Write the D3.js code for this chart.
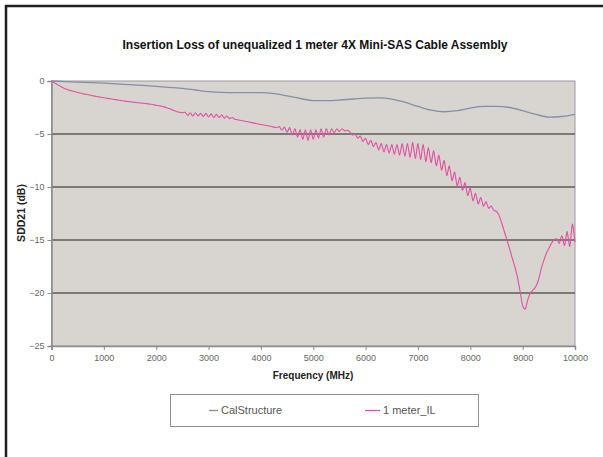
<!DOCTYPE html>
<html><head><meta charset="utf-8">
<script src="https://cdn.jsdelivr.net/npm/d3@7"></script>
<style>html,body{margin:0;padding:0;background:#fff;}svg{display:block;}</style>
</head><body>
<script>
const xTicks = [0,1000,2000,3000,4000,5000,6000,7000,8000,9000,10000];
const yTicks = [0,-5,-10,-15,-20,-25];
const seriesNames = ["CalStructure","1 meter_IL"];

// CalStructure sampled every 250 MHz
const calFreq = d3.range(0, 10001, 250);
const calValues = [0,-0.05,-0.1,-0.15,-0.2,-0.27,-0.35,-0.42,-0.5,-0.6,-0.7,-0.85,-1.0,-1.08,-1.1,-1.1,-1.1,-1.2,-1.4,-1.65,-1.85,-1.85,-1.8,-1.7,-1.62,-1.6,-1.7,-2.0,-2.4,-2.75,-2.9,-2.8,-2.55,-2.4,-2.4,-2.5,-2.8,-3.15,-3.4,-3.35,-3.15];

// 1 meter_IL sampled every 50 MHz
const ilFreq = d3.range(0, 10001, 50);
const ilValues = [
0,-0.15,-0.3,-0.45,-0.58,-0.7,-0.8,-0.88,-0.95,-1.02,
-1.08,-1.14,-1.2,-1.25,-1.3,-1.35,-1.4,-1.45,-1.5,-1.54,
-1.58,-1.62,-1.66,-1.7,-1.74,-1.78,-1.82,-1.86,-1.9,-1.93,
-1.96,-1.99,-2.02,-2.05,-2.08,-2.1,-2.13,-2.16,-2.2,-2.24,
-2.28,-2.33,-2.38,-2.44,-2.52,-2.6,-2.7,-2.8,-2.9,-2.95,
-3.0,-2.95,-3.25,-3.0,-3.3,-3.0,-3.3,-3.05,-3.35,-3.05,
-3.4,-3.1,-3.45,-3.15,-3.45,-3.2,-3.5,-3.3,-3.55,-3.45,
-3.6,-3.65,-3.7,-3.75,-3.8,-3.85,-3.9,-3.95,-4.0,-4.05,
-4.1,-4.15,-4.2,-4.25,-4.3,-4.35,-4.4,-4.3,-4.65,-4.35,
-4.85,-4.4,-5.1,-4.5,-5.3,-4.6,-5.5,-4.6,-5.6,-4.6,
-5.5,-4.6,-5.4,-4.5,-5.3,-4.5,-5.1,-4.5,-4.9,-4.5,
-4.75,-4.5,-4.7,-4.65,-4.8,-5.1,-5.0,-5.4,-5.2,-5.7,
-5.4,-6.0,-5.6,-6.2,-5.8,-6.5,-5.9,-6.7,-6.0,-6.8,
-6.0,-6.9,-6.0,-7.0,-5.9,-7.1,-5.9,-7.2,-5.8,-7.3,
-5.9,-7.4,-6.0,-7.6,-6.3,-7.7,-6.6,-8.0,-7.0,-8.4,
-7.5,-8.9,-8.0,-9.4,-8.6,-9.9,-9.1,-10.3,-9.6,-10.8,
-10.1,-11.3,-10.6,-11.6,-11.0,-11.8,-11.4,-12.0,-11.8,-12.2,
-12.3,-12.7,-13.4,-14.2,-15.0,-15.8,-16.7,-17.5,-18.5,-19.8,
-21.2,-21.5,-20.6,-20.0,-19.7,-19.4,-18.8,-17.8,-17.0,-16.3,
-15.8,-15.3,-15.0,-14.9,-15.3,-14.6,-15.5,-14.2,-15.6,-13.5,
-15.2];

const W = 603, H = 457;
const FONT = "'Liberation Sans', Arial, sans-serif";
const svg = d3.select("body").append("svg").attr("width", W).attr("height", H)
  .style("font-family", FONT);

// outer frame (only left and top edges fall inside the picture)
svg.append("rect").attr("x", 6).attr("y", 6).attr("width", 640).attr("height", 500)
  .attr("fill", "#fff").attr("stroke", "#1e1e1e").attr("stroke-width", 2.5);

const m = {left: 51.5, right: 575, top: 81, bottom: 346};
const x = d3.scaleLinear().domain([0, 10000]).range([m.left, m.right]);
const y = d3.scaleLinear().domain([-25, 0]).range([m.bottom, m.top]);

// plot area
svg.append("rect").attr("x", m.left).attr("y", m.top)
  .attr("width", m.right - m.left).attr("height", m.bottom - m.top)
  .attr("fill", "#d8d5d1").attr("stroke", "#9a9a9a").attr("stroke-width", 1);

// gridlines
svg.append("g").selectAll("line").data(yTicks.filter(d => d < 0 && d > -25)).join("line")
  .attr("x1", m.left).attr("x2", m.right)
  .attr("y1", d => y(d)).attr("y2", d => y(d))
  .attr("stroke", "#7b7a78").attr("stroke-width", 2);

// axes
const yAxis = svg.append("g").attr("transform", `translate(${m.left},0)`)
  .call(d3.axisLeft(y).tickValues(yTicks).tickSize(4).tickPadding(3).tickFormat(d3.format("d")));
const xAxis = svg.append("g").attr("transform", `translate(0,${m.bottom})`)
  .call(d3.axisBottom(x).tickValues(xTicks).tickSize(4).tickPadding(5).tickFormat(d3.format("d")));
[yAxis, xAxis].forEach(g => {
  g.select(".domain").attr("stroke", "#8a8a8a").attr("stroke-width", 1.5);
  g.selectAll(".tick line").attr("stroke", "#8a8a8a");
  g.selectAll(".tick text").attr("fill", "#666").style("font-size", "9px")
    .style("font-family", FONT);
});

// lines
const calLine = d3.line().x(d => x(d[0])).y(d => y(d[1])).curve(d3.curveMonotoneX);
const ilLine = d3.line().x(d => x(d[0])).y(d => y(d[1])).curve(d3.curveCardinal.tension(0.3));
svg.append("path").datum(calFreq.map((f, i) => [f, calValues[i]]))
  .attr("d", calLine).attr("fill", "none")
  .attr("stroke", "#8c8ca6").attr("stroke-width", 1.3);
svg.append("path").datum(ilFreq.map((f, i) => [f, ilValues[i]]))
  .attr("d", ilLine).attr("fill", "none")
  .attr("stroke", "#e2509f").attr("stroke-width", 1.1);

// title
svg.append("text").attr("x", 315).attr("y", 49).attr("text-anchor", "middle")
  .style("font-size", "12px").style("font-weight", "bold").attr("fill", "#111")
  .text("Insertion Loss of unequalized 1 meter 4X Mini-SAS Cable Assembly");

// axis titles
svg.append("text").attr("x", 313).attr("y", 379).attr("text-anchor", "middle")
  .style("font-size", "10px").style("font-weight", "bold").attr("fill", "#222")
  .text("Frequency (MHz)");
svg.append("text").attr("transform", "translate(25,213) rotate(-90)").attr("text-anchor", "middle")
  .style("font-size", "10.5px").style("font-weight", "bold").attr("fill", "#222")
  .text("SDD21 (dB)");

// legend
const lg = svg.append("g");
lg.append("rect").attr("x", 170.5).attr("y", 394.5).attr("width", 308).attr("height", 32)
  .attr("fill", "#fff").attr("stroke", "#8f8f8f").attr("stroke-width", 1);
const legendItems = [
  {name: seriesNames[0], color: "#8c8ca6", x1: 209, x2: 218, tx: 221},
  {name: seriesNames[1], color: "#e2509f", x1: 365, x2: 380, tx: 383}
];
legendItems.forEach(it => {
  lg.append("line").attr("x1", it.x1).attr("x2", it.x2).attr("y1", 410.5).attr("y2", 410.5)
    .attr("stroke", it.color).attr("stroke-width", 1.3);
  lg.append("text").attr("x", it.tx).attr("y", 414).style("font-size", "11px")
    .attr("fill", "#555").text(it.name);
});
</script>
</body></html>
